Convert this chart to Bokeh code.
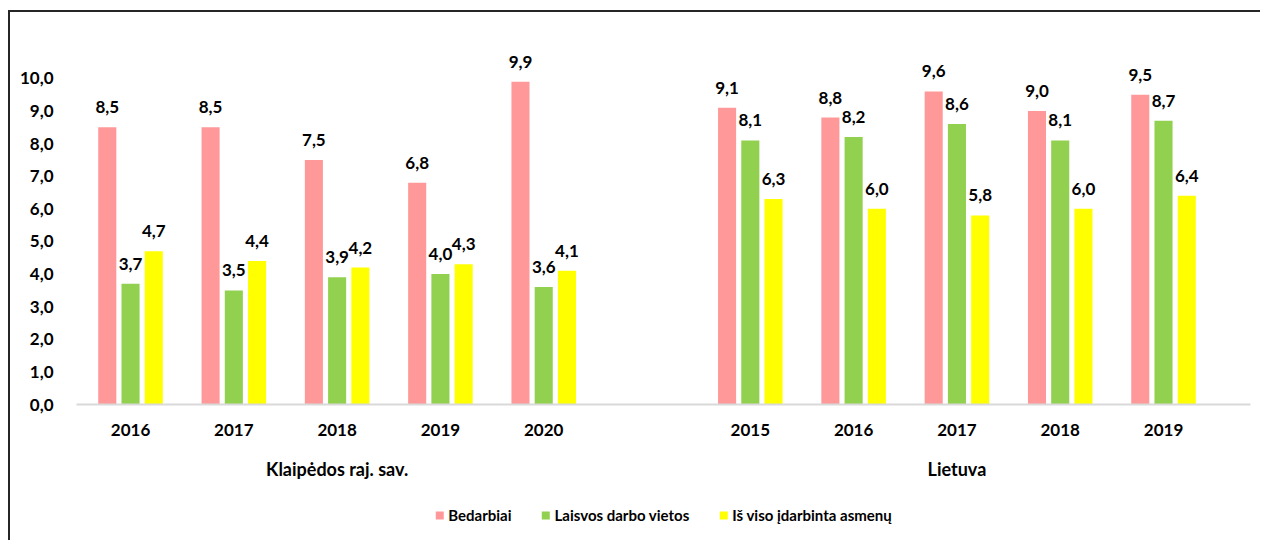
from bokeh.plotting import figure
from bokeh.layouts import column
from bokeh.models import (Range1d, FixedTicker, LinearAxis, CustomJSTickFormatter,
                          ColumnDataSource, Legend, LegendItem)
from bokeh.core.properties import value
from bokeh.embed import file_html
from bokeh.resources import INLINE

# ---------------- data ----------------
groups = ["Klaipėdos raj. sav.", "Lietuva"]
years_klaipeda = ["2016", "2017", "2018", "2019", "2020"]
years_lietuva = ["2015", "2016", "2017", "2018", "2019"]
series_names = ["Bedarbiai", "Laisvos darbo vietos", "Iš viso įdarbinta asmenų"]
bedarbiai = [8.5, 8.5, 7.5, 6.8, 9.9, 9.1, 8.8, 9.6, 9.0, 9.5]
laisvos = [3.7, 3.5, 3.9, 4.0, 3.6, 8.1, 8.2, 8.6, 8.1, 8.7]
idarbinta = [4.7, 4.4, 4.2, 4.3, 4.1, 6.3, 6.0, 5.8, 6.0, 6.4]
y_ticks = [0, 1, 2, 3, 4, 5, 6, 7, 8, 9, 10]

colors = ["#FF9999", "#92D050", "#FFFF00"]
FONT = "Lato"

# category slots: group 1, one empty slot, group 2
pos = list(range(len(years_klaipeda))) + [len(years_klaipeda) + 1 + i for i in range(len(years_lietuva))]
year_labels = years_klaipeda + years_lietuva
group_centers = [(len(years_klaipeda) - 1) / 2,
                 len(years_klaipeda) + 1 + (len(years_lietuva) - 1) / 2]

p = figure(width=1250, height=470, output_backend="svg", toolbar_location=None,
           x_range=Range1d(-0.523, 10.842), y_range=Range1d(0, 11.47),
           x_axis_location=None, y_axis_location=None)
p.min_border_left = 66
p.min_border_right = 10
p.min_border_top = 18
p.min_border_bottom = 77
p.outline_line_color = None
p.xgrid.visible = False
p.ygrid.visible = False

# y axis
yax = LinearAxis(ticker=FixedTicker(ticks=y_ticks),
                 formatter=CustomJSTickFormatter(code="return tick.toFixed(1).replace('.', ',');"))
yax.axis_line_color = None
yax.major_tick_line_color = None
yax.minor_tick_line_color = None
yax.major_label_standoff = 17
yax.major_label_text_font = FONT
yax.major_label_text_font_style = "bold"
yax.major_label_text_font_size = "17px"
yax.major_label_text_color = "#000000"
p.add_layout(yax, "left")

# x axis (years)
xax = LinearAxis(ticker=FixedTicker(ticks=pos),
                 major_label_overrides={k: v for k, v in zip(pos, year_labels)})
xax.axis_line_color = "#D9D9D9"
xax.axis_line_width = 2
xax.major_tick_line_color = None
xax.minor_tick_line_color = None
xax.major_label_standoff = 13
xax.major_label_text_font = FONT
xax.major_label_text_font_style = "bold"
xax.major_label_text_font_size = "17px"
xax.major_label_text_color = "#000000"
p.add_layout(xax, "below")

# group axis
gax = LinearAxis(ticker=FixedTicker(ticks=group_centers),
                 major_label_overrides={k: v for k, v in zip(group_centers, groups)})
gax.axis_line_color = None
gax.major_tick_line_color = None
gax.minor_tick_line_color = None
gax.major_label_standoff = 13
gax.major_label_text_font = FONT
gax.major_label_text_font_style = "bold"
gax.major_label_text_font_size = "18px"
gax.major_label_text_color = "#000000"
p.add_layout(gax, "below")

# legend strip below the chart (same data sources; its view range shows only the legend)
pl = figure(width=1250, height=58, output_backend="svg", toolbar_location=None,
            x_range=Range1d(-0.523, 10.842), y_range=Range1d(50, 51),
            x_axis_location=None, y_axis_location=None)
pl.min_border_left = 0
pl.min_border_right = 0
pl.min_border_top = 8
pl.min_border_bottom = 0
pl.outline_line_color = None
pl.xgrid.visible = False
pl.ygrid.visible = False

offset = 0.225
width = 0.175
swatches = []
for i, (vals, col) in enumerate(zip([bedarbiai, laisvos, idarbinta], colors)):
    xs = [x + (i - 1) * offset for x in pos]
    src = ColumnDataSource(dict(x=xs, top=vals,
                                lab=[f"{v:.1f}".replace(".", ",") for v in vals]))
    p.vbar(x="x", top="top", width=width, source=src, fill_color=col, line_color=None)
    p.text(x="x", y="top", text="lab", source=src, text_align="center",
           text_baseline="alphabetic", y_offset=-20, text_font=value(FONT),
           text_font_style="bold", text_font_size="17px", text_color="#000000")
    swatches.append(pl.vbar(x="x", top="top", width=width, source=src,
                            fill_color=col, line_color=None))

legend = Legend(items=[LegendItem(label=n, renderers=[r]) for n, r in zip(series_names, swatches)],
                orientation="horizontal", location="center")
legend.glyph_width = 10
legend.glyph_height = 10
legend.label_height = 20
legend.label_standoff = 4
legend.spacing = 29
legend.padding = 0
legend.margin = 0
legend.border_line_color = None
legend.background_fill_alpha = 0
legend.label_text_font = FONT
legend.label_text_font_style = "bold"
legend.label_text_font_size = "15px"
legend.label_text_color = "#000000"
pl.add_layout(legend, "center")

layout = column(p, pl, spacing=0)
layout.styles = {"margin-left": "8px", "margin-top": "10px",
                 "border-left": "2px solid #262626", "border-top": "2px solid #262626"}

open("out.html", "w").write(file_html(layout, INLINE))
